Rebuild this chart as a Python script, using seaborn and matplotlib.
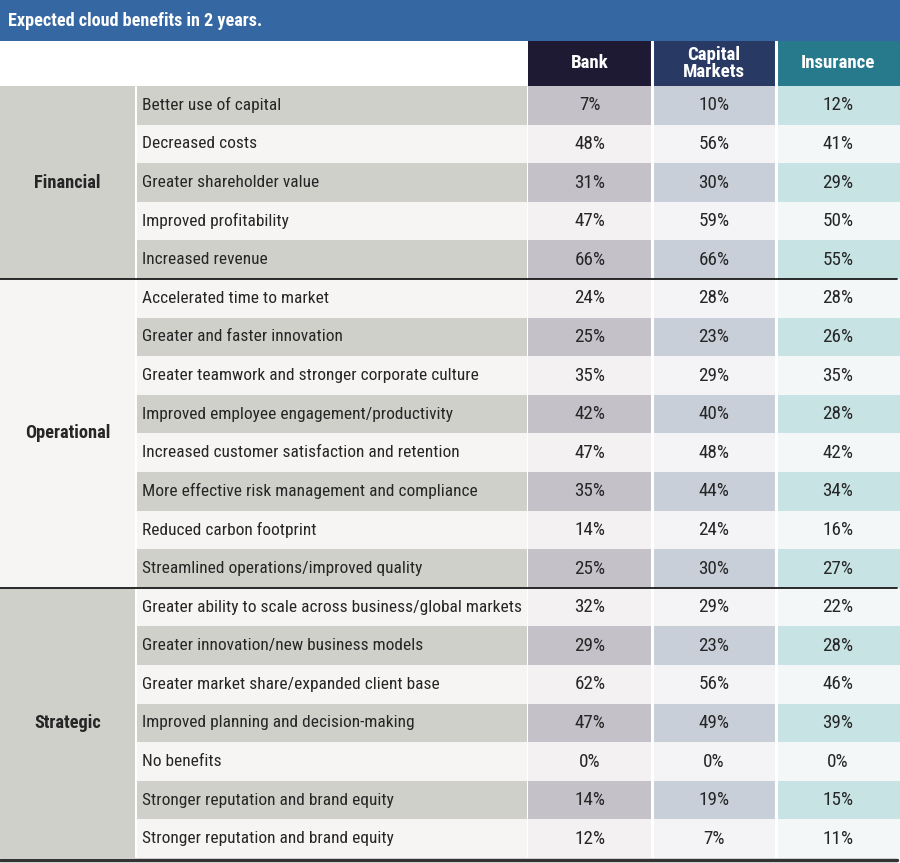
import numpy as np
import pandas as pd
import seaborn as sns
import matplotlib
matplotlib.use("Agg")
import matplotlib.pyplot as plt
from matplotlib.colors import ListedColormap
from matplotlib import font_manager

# ---------------- data ----------------
title = "Expected cloud benefits in 2 years."
columns = ["Bank", "Capital\nMarkets", "Insurance"]
groups = ["Financial", "Operational", "Strategic"]
group_sizes = [5, 8, 7]
benefits = [
    "Better use of capital",
    "Decreased costs",
    "Greater shareholder value",
    "Improved profitability",
    "Increased revenue",
    "Accelerated time to market",
    "Greater and faster innovation",
    "Greater teamwork and stronger corporate culture",
    "Improved employee engagement/productivity",
    "Increased customer satisfaction and retention",
    "More effective risk management and compliance",
    "Reduced carbon footprint",
    "Streamlined operations/improved quality",
    "Greater ability to scale across business/global markets",
    "Greater innovation/new business models",
    "Greater market share/expanded client base",
    "Improved planning and decision-making",
    "No benefits",
    "Stronger reputation and brand equity",
    "Stronger reputation and brand equity",
]
bank = [7, 48, 31, 47, 66, 24, 25, 35, 42, 47, 35, 14, 25, 32, 29, 62, 47, 0, 14, 12]
capital_markets = [10, 56, 30, 59, 66, 28, 23, 29, 40, 48, 44, 24, 30, 29, 23, 56, 49, 0, 19, 7]
insurance = [12, 41, 29, 50, 55, 28, 26, 35, 28, 42, 34, 16, 27, 22, 28, 46, 39, 0, 15, 11]

# ---------------- style ----------------
sns.set_theme(style="white")
avail = {f.name for f in font_manager.fontManager.ttflist}
family = "Liberation Sans"
for cand in ["Liberation Sans Narrow", "Roboto Condensed", "Open Sans Condensed", "DejaVu Sans Condensed"]:
    if cand in avail:
        family = cand
        break
plt.rcParams["font.family"] = [family, "DejaVu Sans"]

W, H = 900, 863
fig = plt.figure(figsize=(9, 8.63), dpi=100)
fig.patch.set_facecolor("white")
renderer = fig.canvas.get_renderer()

def axes_px(x0, y0, x1, y1):
    return fig.add_axes([x0 / W, 1 - y1 / H, (x1 - x0) / W, (y1 - y0) / H])

t = fig.text(0, 0, "", alpha=0)

def fit(txt, target_px, max_size, weight="normal"):
    t.set_text(txt)
    t.set_fontweight(weight)
    t.set_fontsize(max_size)
    w = t.get_window_extent(renderer).width
    return min(max_size, max_size * target_px / w)

label_size = fit("Greater ability to scale across business/global markets", 377, 13)
title_size = fit(title, 255, 14, "bold")
group_size = fit("Operational", 86, 14, "bold")
value_size = fit("66%", 31, 16)
header_size = fit("Insurance", 74, 16, "bold")
t.remove()

text_color = "#262626"
n = len(benefits)
stripe = np.array([i % 2 for i in range(n)])  # 0 = grey, 1 = light

ROW_TOP, ROW_BOT = 86, 858

# value cells
vals = pd.DataFrame({"Bank": bank, "Capital Markets": capital_markets, "Insurance": insurance},
                    index=benefits)
codes = np.column_stack([stripe + 0, stripe + 2, stripe + 4])
cell_colors = ["#c5c1c8", "#f4f1f2", "#c9cfd9", "#f4f4f6", "#c8e3e4", "#f4f7f7"]
annot = vals.map(lambda v: f"{v}%").values
axv = axes_px(528, ROW_TOP, 900, ROW_BOT)
sns.heatmap(codes, ax=axv, cmap=ListedColormap(cell_colors), vmin=-0.5, vmax=5.5,
            cbar=False, annot=annot, fmt="", linewidths=0,
            annot_kws={"fontsize": value_size, "color": text_color},
            xticklabels=False, yticklabels=False)
for xv in [1, 2]:
    axv.axvline(xv, color="white", lw=2.2)

# header
axh = axes_px(528, 41, 900, 86)
sns.heatmap(np.array([[0, 1, 2]]), ax=axh, cmap=ListedColormap(["#1e1a34", "#283964", "#277a8b"]),
            vmin=-0.5, vmax=2.5, cbar=False, annot=np.array([columns]), fmt="",
            annot_kws={"fontsize": header_size, "color": "white", "fontweight": "bold",
                       "linespacing": 0.95},
            xticklabels=False, yticklabels=False)
for xv in [1, 2]:
    axh.axvline(xv, color="white", lw=2.2)

# label column
axl = axes_px(137, ROW_TOP, 527, ROW_BOT)
sns.heatmap(stripe.reshape(-1, 1), ax=axl, cmap=ListedColormap(["#d0d0cb", "#f7f5f3"]),
            vmin=-0.5, vmax=1.5, cbar=False, xticklabels=False, yticklabels=False)
for i, lab in enumerate(benefits):
    axl.text(0.013, i + 0.5, lab, ha="left", va="center", fontsize=label_size, color=text_color)

# group column
gcode = np.concatenate([np.full(s, g % 2) for g, s in enumerate(group_sizes)])
axg = axes_px(0, ROW_TOP, 135, ROW_BOT)
sns.heatmap(gcode.reshape(-1, 1), ax=axg, cmap=ListedColormap(["#d0d0cb", "#f7f5f3"]),
            vmin=-0.5, vmax=1.5, cbar=False, xticklabels=False, yticklabels=False)
start = 0
for g, s in zip(groups, group_sizes):
    axg.text(0.5, start + s / 2, g, ha="center", va="center", fontsize=group_size,
             fontweight="bold", color=text_color)
    start += s

# overlay: title bar, separator lines
axo = fig.add_axes([0, 0, 1, 1], zorder=5)
axo.set_xlim(0, W)
axo.set_ylim(H, 0)
axo.axis("off")
axo.patch.set_alpha(0)
axo.add_patch(plt.Rectangle((0, 0), W, 41, color="#3567a3", lw=0))
axo.text(8, 21, title, ha="left", va="center", fontsize=title_size, fontweight="bold", color="white")
row_h = (ROW_BOT - ROW_TOP) / n
b = 0
for s in group_sizes[:-1]:
    b += s
    y = ROW_TOP + b * row_h
    axo.plot([0, 897], [y, y], color="#1a1a1a", lw=1.3)
axo.plot([0, 897], [860, 860], color="#333333", lw=2.5)

fig.savefig("out.png", dpi=100)
